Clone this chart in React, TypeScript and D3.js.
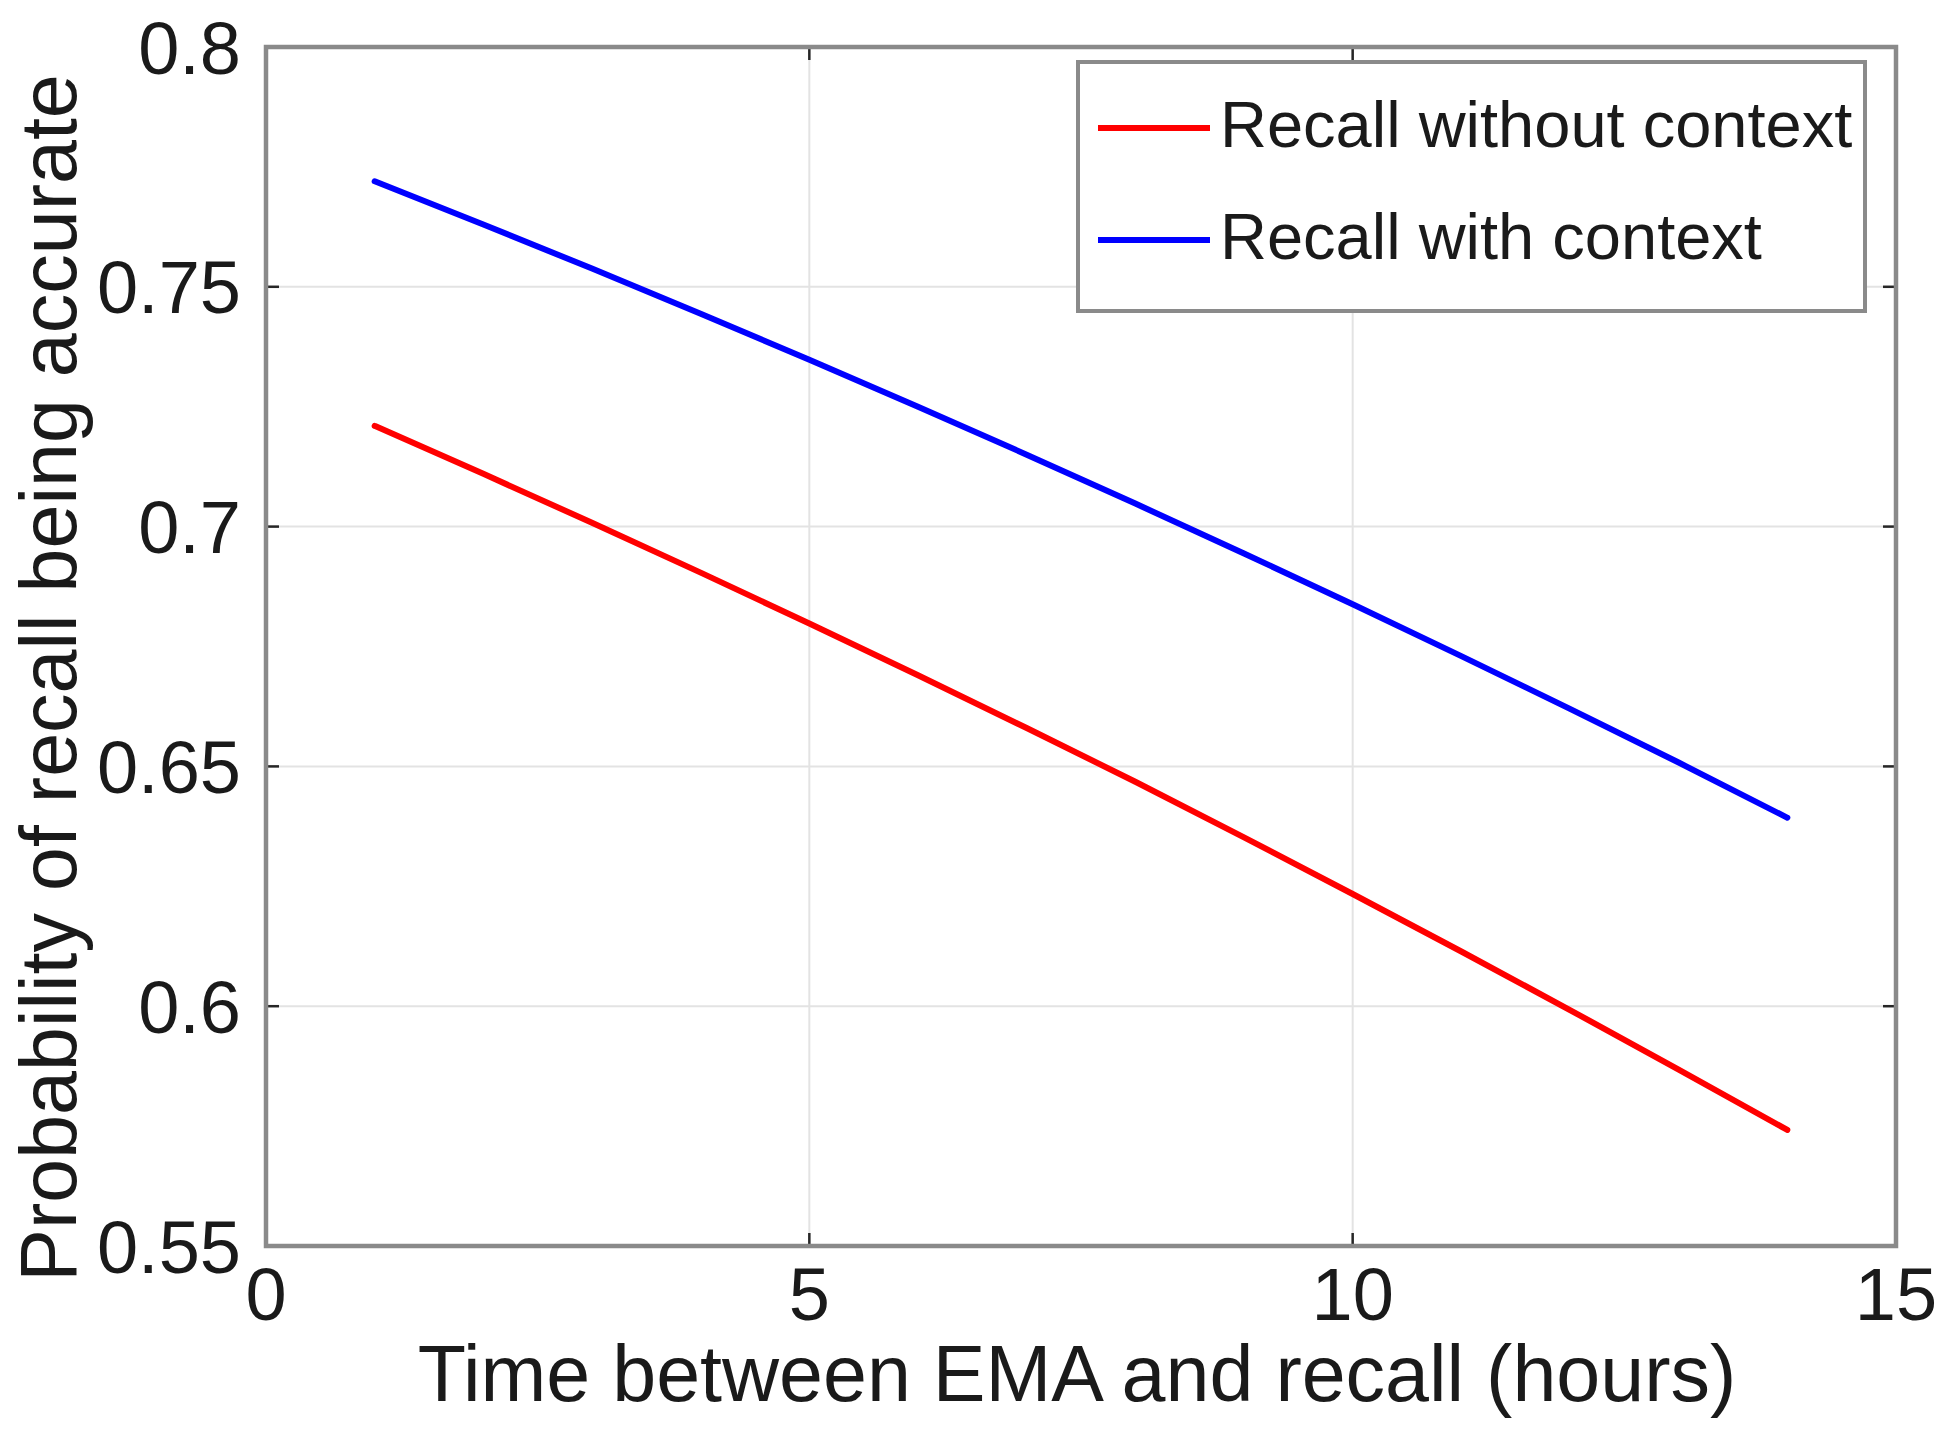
import { useEffect, useRef } from "react";
import * as d3 from "d3";

// hours between EMA and recall
const hours = [1, 2, 3, 4, 5, 6, 7, 8, 9, 10, 11, 12, 13, 14];

// probability of recall being accurate
const withoutContext = [
  0.721, 0.711, 0.7008, 0.6904, 0.6798, 0.669, 0.658, 0.6468, 0.6352, 0.6234,
  0.6114, 0.5992, 0.5868, 0.5742,
];
const withContext = [
  0.772, 0.763, 0.7538, 0.7444, 0.7348, 0.725, 0.715, 0.7048, 0.6944, 0.6838,
  0.673, 0.662, 0.6508, 0.6393,
];

const xTicks = [0, 5, 10, 15];
const yTicks = [0.55, 0.6, 0.65, 0.7, 0.75, 0.8];
const yTickLabels = ["0.55", "0.6", "0.65", "0.7", "0.75", "0.8"];

const seriesNames = ["Recall without context", "Recall with context"];
const seriesColors = ["#ff0000", "#0000ff"];

export default function App() {
  const svgRef = useRef<SVGSVGElement>(null);

  useEffect(() => {
    if (!svgRef.current) return;
    const width = 1950;
    const height = 1432;
    const margin = { top: 47, right: 54, bottom: 186, left: 266 };
    const innerWidth = width - margin.left - margin.right;
    const innerHeight = height - margin.top - margin.bottom;
    const font = "'Liberation Sans', Arial, Helvetica, sans-serif";
    const textColor = "#1a1a1a";

    d3.select(svgRef.current).selectAll("*").remove();
    const svg = d3
      .select(svgRef.current)
      .attr("width", width)
      .attr("height", height)
      .style("font-family", font);

    svg.append("rect").attr("width", width).attr("height", height).attr("fill", "white");

    const xScale = d3.scaleLinear().domain([0, 15]).range([0, innerWidth]);
    const yScale = d3.scaleLinear().domain([0.55, 0.8]).range([innerHeight, 0]);

    const g = svg
      .append("g")
      .attr("transform", `translate(${margin.left},${margin.top})`);

    // grid
    g.append("g")
      .selectAll("line")
      .data(xTicks.slice(1, -1))
      .enter()
      .append("line")
      .attr("x1", (d) => xScale(d))
      .attr("x2", (d) => xScale(d))
      .attr("y1", 0)
      .attr("y2", innerHeight)
      .attr("stroke", "#e3e3e3")
      .attr("stroke-width", 2);

    g.append("g")
      .selectAll("line")
      .data(yTicks.slice(1, -1))
      .enter()
      .append("line")
      .attr("x1", 0)
      .attr("x2", innerWidth)
      .attr("y1", (d) => yScale(d))
      .attr("y2", (d) => yScale(d))
      .attr("stroke", "#e3e3e3")
      .attr("stroke-width", 2);

    // tick marks, inward, on all four sides
    const tickLen = 13;
    const ticks = g.append("g").attr("stroke", "#262626").attr("stroke-width", 2.5);
    xTicks.forEach((t) => {
      ticks.append("line").attr("x1", xScale(t)).attr("x2", xScale(t))
        .attr("y1", innerHeight).attr("y2", innerHeight - tickLen);
      ticks.append("line").attr("x1", xScale(t)).attr("x2", xScale(t))
        .attr("y1", 0).attr("y2", tickLen);
    });
    yTicks.forEach((t) => {
      ticks.append("line").attr("x1", 0).attr("x2", tickLen)
        .attr("y1", yScale(t)).attr("y2", yScale(t));
      ticks.append("line").attr("x1", innerWidth).attr("x2", innerWidth - tickLen)
        .attr("y1", yScale(t)).attr("y2", yScale(t));
    });

    // lines
    const line = d3
      .line<number>()
      .x((_, i) => xScale(hours[i]))
      .y((d) => yScale(d))
      .curve(d3.curveMonotoneX);

    [withoutContext, withContext].forEach((values, i) => {
      g.append("path")
        .datum(values)
        .attr("fill", "none")
        .attr("stroke", seriesColors[i])
        .attr("stroke-width", 6)
        .attr("stroke-linejoin", "round")
        .attr("stroke-linecap", "round")
        .attr("d", line);
    });

    // axes box
    g.append("rect")
      .attr("width", innerWidth)
      .attr("height", innerHeight)
      .attr("fill", "none")
      .attr("stroke", "#8a8a8a")
      .attr("stroke-width", 4.5);

    // tick labels
    g.append("g")
      .selectAll("text")
      .data(xTicks)
      .enter()
      .append("text")
      .attr("x", (d) => xScale(d))
      .attr("y", innerHeight + 74)
      .attr("text-anchor", "middle")
      .attr("font-size", 74)
      .attr("fill", textColor)
      .text((d) => String(d));

    g.append("g")
      .selectAll("text")
      .data(yTicks)
      .enter()
      .append("text")
      .attr("x", -25)
      .attr("y", (d) => yScale(d))
      .attr("dy", "0.36em")
      .attr("text-anchor", "end")
      .attr("font-size", 74)
      .attr("fill", textColor)
      .text((_, i) => yTickLabels[i]);

    // axis titles
    svg.append("text")
      .attr("x", margin.left + innerWidth / 2 - 4)
      .attr("y", 1401)
      .attr("text-anchor", "middle")
      .attr("font-size", 79)
      .attr("fill", textColor)
      .text("Time between EMA and recall (hours)");

    svg.append("text")
      .attr("transform", `translate(76, 678) rotate(-90)`)
      .attr("text-anchor", "middle")
      .attr("font-size", 79)
      .attr("fill", textColor)
      .text("Probability of recall being accurate");

    // legend
    const legend = svg.append("g");
    legend.append("rect")
      .attr("x", 1078)
      .attr("y", 62)
      .attr("width", 787)
      .attr("height", 249)
      .attr("fill", "white")
      .attr("stroke", "#8a8a8a")
      .attr("stroke-width", 4);

    seriesNames.forEach((name, i) => {
      const ly = 128 + i * 112;
      legend.append("line")
        .attr("x1", 1098)
        .attr("x2", 1210)
        .attr("y1", ly)
        .attr("y2", ly)
        .attr("stroke", seriesColors[i])
        .attr("stroke-width", 6);
      legend.append("text")
        .attr("x", 1220)
        .attr("y", ly + 19)
        .attr("font-size", 65)
        .attr("fill", textColor)
        .text(name);
    });
  }, []);

  return <svg ref={svgRef} style={{ position: "absolute", left: 0, top: 0 }} />;
}
